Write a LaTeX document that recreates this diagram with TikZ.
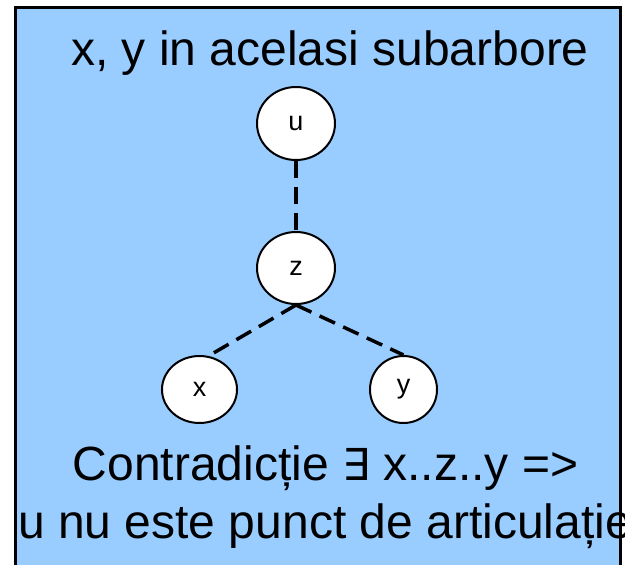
\documentclass[tikz,border=0pt]{standalone}
\usepackage{fontspec}
\usepackage{graphicx}
\setmainfont{Liberation Sans}
\newfontfamily\symfam{DejaVu Sans}
\usetikzlibrary{shapes.geometric}
\definecolor{panelblue}{HTML}{99CCFF}
\tikzset{
  vertex/.style={ellipse, draw=black, line width=2pt, fill=white, inner sep=0pt,
    font=\fontsize{27}{27}\selectfont},
  treeedge/.style={line width=3.5pt, dash pattern=on 17pt off 9pt},
  bigtext/.style={font=\fontsize{48}{57.6}\selectfont, inner sep=0pt, text=black}
}
\newcommand{\bigexists}{{\symfam\fontsize{44}{44}\selectfont ∃}}
\begin{document}
\begin{tikzpicture}[x=1pt,y=-1pt]
\useasboundingbox (0,0) rectangle (625,565);
\clip (0,0) rectangle (625,565);
\draw[fill=panelblue, draw=black, line width=3pt] (15,7.5) rectangle (620,600);
\node[bigtext, anchor=base] (title) at (330,65) {x, y in acelasi subarbore};
\node[vertex, minimum width=78pt, minimum height=73pt] (u) at (296,123.5) {u};
\node[vertex, minimum width=78pt, minimum height=72pt] (z) at (296,268) {z};
\node[vertex, minimum width=75pt, minimum height=67pt] (x) at (199.5,389.5) {x};
\node[vertex, minimum width=67pt, minimum height=67pt] (y) at (403.5,389.5) {y};
\draw[treeedge] (u.south) -- (z.north);
\draw[treeedge] (z.south) -- (x.75);
\draw[treeedge] (z.south) -- (y.north);
\node[bigtext, anchor=base] (line1) at (325.5,480) {Contradic\char"021B ie \bigexists{} x..z..y =>};
\node[bigtext, anchor=base west] (line2) at (18,538) {u nu este punct de articula\char"021B ie};
\end{tikzpicture}
\end{document}
